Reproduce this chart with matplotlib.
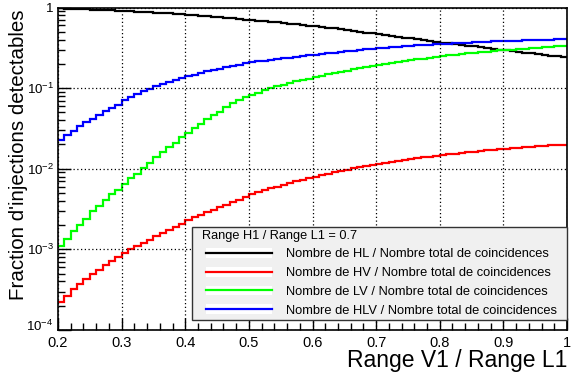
import numpy as np
import matplotlib
matplotlib.use("Agg")
import matplotlib.pyplot as plt
import matplotlib.transforms as mtransforms
from matplotlib.lines import Line2D
from matplotlib.patches import Patch
from matplotlib.ticker import FixedLocator, NullFormatter, LogLocator
from matplotlib.offsetbox import HPacker, DrawingArea

plt.rcParams['font.family'] = ['Liberation Sans', 'DejaVu Sans']
plt.rcParams['mathtext.fontset'] = 'custom'
plt.rcParams['mathtext.rm'] = 'Liberation Sans'
plt.rcParams['mathtext.it'] = 'Liberation Sans:italic'
plt.rcParams['mathtext.bf'] = 'Liberation Sans:bold'

# ---- data: histogram bins of width 0.01 from 0.20 to 1.00 ----
x_min, x_max, n_bins = 0.20, 1.00, 80
bin_edges = np.linspace(x_min, x_max, n_bins + 1)

frac_HL = [0.977, 0.971, 0.965, 0.958, 0.951, 0.944, 0.937, 0.929, 0.921, 0.914,
           0.907, 0.898, 0.889, 0.880, 0.871, 0.862, 0.852, 0.843, 0.833, 0.824,
           0.814, 0.803, 0.792, 0.781, 0.769, 0.757, 0.745, 0.733, 0.721, 0.709,
           0.697, 0.686, 0.675, 0.664, 0.653, 0.642, 0.631, 0.620, 0.609, 0.598,
           0.585, 0.573, 0.561, 0.549, 0.537, 0.525, 0.513, 0.501, 0.489, 0.477,
           0.464, 0.454, 0.444, 0.434, 0.424, 0.414, 0.404, 0.394, 0.384, 0.375,
           0.366, 0.358, 0.350, 0.343, 0.336, 0.329, 0.322, 0.315, 0.308, 0.301,
           0.294, 0.288, 0.282, 0.276, 0.270, 0.264, 0.258, 0.252, 0.247, 0.242]

frac_HV = [2.24e-4, 2.66e-4, 3.2e-4, 3.7e-4, 4.3e-4, 4.9e-4, 5.6e-4, 6.4e-4, 7.2e-4, 8.1e-4,
           9.1e-4, 1.0e-3, 1.09e-3, 1.19e-3, 1.32e-3, 1.45e-3, 1.58e-3, 1.73e-3, 1.90e-3, 2.07e-3,
           2.3e-3, 2.5e-3, 2.7e-3, 2.9e-3, 3.1e-3, 3.35e-3, 3.6e-3, 3.85e-3, 4.15e-3, 4.45e-3,
           4.8e-3, 5.1e-3, 5.4e-3, 5.7e-3, 6.0e-3, 6.3e-3, 6.6e-3, 6.95e-3, 7.3e-3, 7.6e-3,
           7.95e-3, 8.3e-3, 8.65e-3, 9.0e-3, 9.35e-3, 9.7e-3, 0.0101, 0.0104, 0.0108, 0.0111,
           0.0115, 0.0118, 0.0122, 0.0125, 0.0128, 0.0132, 0.0135, 0.0138, 0.0141, 0.0145,
           0.0148, 0.0151, 0.0154, 0.0157, 0.0160, 0.0163, 0.0166, 0.0169, 0.0172, 0.0175,
           0.0178, 0.0180, 0.0183, 0.0185, 0.0188, 0.0190, 0.0192, 0.0195, 0.0197, 0.0199]

frac_LV = [1.09e-3, 1.35e-3, 1.70e-3, 2.03e-3, 2.40e-3, 2.97e-3, 3.5e-3, 4.1e-3, 4.8e-3, 5.5e-3,
           6.5e-3, 7.6e-3, 8.7e-3, 0.0102, 0.0118, 0.0138, 0.0160, 0.0185, 0.0210, 0.0245,
           0.028, 0.032, 0.036, 0.041, 0.046, 0.051, 0.059, 0.066, 0.071, 0.077,
           0.083, 0.088, 0.094, 0.099, 0.105, 0.110, 0.116, 0.121, 0.126, 0.131,
           0.137, 0.142, 0.148, 0.153, 0.159, 0.165, 0.171, 0.177, 0.183, 0.188,
           0.195, 0.200, 0.205, 0.211, 0.216, 0.222, 0.228, 0.233, 0.239, 0.244,
           0.250, 0.255, 0.260, 0.265, 0.270, 0.275, 0.279, 0.284, 0.288, 0.293,
           0.297, 0.301, 0.306, 0.310, 0.314, 0.318, 0.322, 0.326, 0.330, 0.334]

frac_HLV = [0.0226, 0.026, 0.0295, 0.0335, 0.0375, 0.042, 0.047, 0.052, 0.057, 0.0625,
            0.0705, 0.077, 0.084, 0.091, 0.098, 0.105, 0.112, 0.119, 0.126, 0.133,
            0.140, 0.147, 0.154, 0.161, 0.168, 0.175, 0.182, 0.189, 0.196, 0.203,
            0.209, 0.214, 0.219, 0.224, 0.229, 0.234, 0.239, 0.244, 0.249, 0.254,
            0.260, 0.265, 0.271, 0.276, 0.282, 0.287, 0.292, 0.298, 0.303, 0.308,
            0.313, 0.317, 0.321, 0.326, 0.330, 0.334, 0.338, 0.342, 0.346, 0.350,
            0.354, 0.357, 0.361, 0.364, 0.367, 0.370, 0.373, 0.376, 0.379, 0.382,
            0.385, 0.387, 0.389, 0.391, 0.393, 0.395, 0.397, 0.399, 0.401, 0.403]

series_labels = ["Nombre de HL / Nombre total de coincidences",
                 "Nombre de HV / Nombre total de coincidences",
                 "Nombre de LV / Nombre total de coincidences",
                 "Nombre de HLV / Nombre total de coincidences"]
series_colors = ["#000000", "#ff0000", "#00ff00", "#0000ff"]
legend_title = "Range H1 / Range L1 = 0.7"

x_ticks = [0.2, 0.3, 0.4, 0.5, 0.6, 0.7, 0.8, 0.9, 1.0]
x_tick_labels = ["0.2", "0.3", "0.4", "0.5", "0.6", "0.7", "0.8", "0.9", "1"]
y_ticks = [1e-4, 1e-3, 1e-2, 1e-1, 1]
y_tick_labels = ["$10^{-4}$", "$10^{-3}$", "$10^{-2}$", "$10^{-1}$", "1"]

# ---- figure ----
W, H = 571, 376
fig = plt.figure(figsize=(W / 100, H / 100), dpi=100)
ax = fig.add_axes([58 / W, (H - 330) / H, (567 - 58) / W, (330 - 7.5) / H])

handles = []
for vals, col, lab in zip([frac_HL, frac_HV, frac_LV, frac_HLV], series_colors, series_labels):
    ax.stairs(vals, bin_edges, color=col, linewidth=1.6, baseline=None)
    handles.append((Patch(facecolor="white", edgecolor="none"),
                    Line2D([], [], color=col, linewidth=1.6)))

ax.set_yscale("log")
ax.set_xlim(x_min, x_max)
ax.set_ylim(1e-4, 1)

ax.set_xticks(x_ticks)
ax.set_xticklabels(x_tick_labels)
ax.xaxis.set_minor_locator(FixedLocator(np.arange(0.2, 1.0001, 0.02)))
ax.set_yticks(y_ticks)
ax.set_yticklabels(y_tick_labels)
ax.yaxis.set_minor_locator(LogLocator(base=10, subs=np.arange(2, 10)))
ax.yaxis.set_minor_formatter(NullFormatter())

ax.tick_params(which="both", direction="in", top=False, right=False,
               width=1, color="black")
ax.tick_params(axis="x", which="major", labelsize=10.5, pad=4)
ax.tick_params(axis="y", which="major", labelsize=9.6, pad=3)
ax.tick_params(which="major", length=9)
ax.tick_params(which="minor", length=5)

# lift the lowest y label a little so it does not collide with "0.2"
lowest = ax.yaxis.get_major_ticks()[0].label1
lowest.set_transform(lowest.get_transform() +
                     mtransforms.ScaledTranslation(0, 3.5 / 72, fig.dpi_scale_trans))

ax.grid(True, which="major", linestyle=(0, (1, 2)), color="black", linewidth=0.9)
for sp in ax.spines.values():
    sp.set_linewidth(1.2)

ax.set_xlabel("Range V1 / Range L1", fontsize=16.5, loc="right")
ax.xaxis.set_label_coords(1.0, -0.058)
ax.xaxis.label.set_va("top")
ax.set_ylabel("Fraction d'injections detectables", fontsize=14.8, loc="top")
ax.yaxis.set_label_coords(-0.059, 0.993)

fs_leg = 9.3
leg = ax.legend(handles, series_labels, title=legend_title,
                loc="lower left", bbox_to_anchor=(0.263, 0.031, 0.737, 0.285),
                mode="expand", fontsize=fs_leg, title_fontsize=9.2,
                handlelength=5.1, handleheight=0.8, handletextpad=1.1, labelspacing=0.49,
                borderpad=0.25, borderaxespad=0, fancybox=False, framealpha=1,
                facecolor="#f0f0f0", edgecolor="#333333")
leg.get_frame().set_linewidth(1.0)
# indent the title and the entries inside the legend box
lb = leg._legend_box
lb.align = "left"
lb._children = [HPacker(pad=0, sep=0, align="center",
                        children=[DrawingArea(4.9, 0), leg._legend_title_box]),
                HPacker(pad=0, sep=0, align="center",
                        children=[DrawingArea(7.8, 0), leg._legend_handle_box])]

fig.savefig("out.png", dpi=100)
